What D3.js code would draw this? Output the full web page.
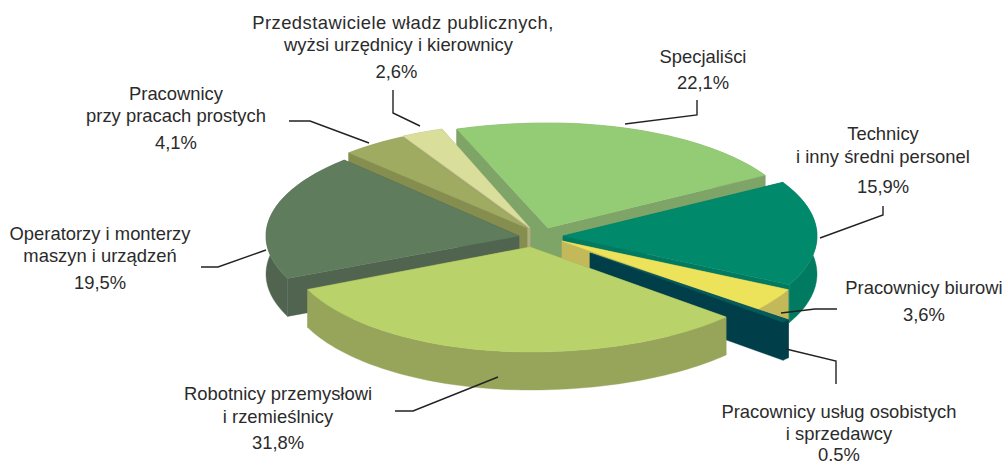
<!DOCTYPE html>
<html><head><meta charset="utf-8">
<script src="https://cdn.jsdelivr.net/npm/d3@7"></script>
<style>html,body{margin:0;padding:0;background:#fff;overflow:hidden}svg{display:block}text{font-family:"Liberation Sans",Arial,sans-serif;fill:#2b2b2b}</style>
</head><body><svg id="c" width="1004" height="465"></svg>
<script>
// Data, clockwise from the back of the pie
const categories = ["Specjaliści","Technicy i inny średni personel","Pracownicy biurowi","Pracownicy usług osobistych i sprzedawcy","Robotnicy przemysłowi i rzemieślnicy","Operatorzy i monterzy maszyn i urządzeń","Pracownicy przy pracach prostych","Przedstawiciele władz publicznych, wyżsi urzędnicy i kierownicy"];
const values = [22.1,15.9,3.6,0.5,31.8,19.5,4.1,2.6];
const valueLabels = ["22,1%","15,9%","3,6%","0.5%","31,8%","19,5%","4,1%","2,6%"];

// Styles
const topColors  = ["#94cb75","#00896a","#ede35a","#075a5c","#bad26a","#5f7c5d","#a0ab62","#d9de9a"];
const wallColors = ["#7ea567","#007a61","#c4b95a","#003f4a","#96a55a","#506450","#858e4f","#b0ae82"];

// Layout: apex of each exploded slice and its half axes (left / right / vertical)
const apexX = [548,563,562,590,530,519,527,530];
const apexY = [228,236,241,253,247,236,228,228];
const radL  = [272,258,258,258,243,253,258,262];
const radR  = [251,254,254,259,263,258,258,258];
const radV  = [105,107,107,104,105,105,104,105];
const depth = 38;
const drawOrder = [0,7,6,5,1,2,3,4];

// Label lines: text, baseline, optional centre, optional letter spacing
const labelLines = [
  {x:703,lines:[["Specjaliści",63],["22,1%",89]]},
  {x:883,lines:[["Technicy",140],["i inny średni personel",163],["15,9%",193]]},
  {x:924,lines:[["Pracownicy biurowi",294],["3,6%",321]]},
  {x:839,lines:[["Pracownicy usług osobistych",418],["i sprzedawcy",440],["0.5%",460.5]]},
  {x:278,lines:[["Robotnicy przemysłowi",400],["i rzemieślnicy",423],["31,8%",449]]},
  {x:100,lines:[["Operatorzy i monterzy",240],["maszyn i urządzeń",262],["19,5%",289]]},
  {x:176,lines:[["Pracownicy",100],["przy pracach prostych",122],["4,1%",149]]},
  {x:403,lines:[["Przedstawiciele władz publicznych,",29,403,0.45],["wyżsi urzędnicy i kierownicy",51,398.5],["2,6%",78,396.5]]}
];
const leaders = [
  [[625,124],[697,115],[697,100]],
  [[820,238],[883,215],[883,206]],
  [[781,313],[815,309],[837,309]],
  [[786,349],[836,361],[836,384]],
  [[498,377],[413,411],[395,411]],
  [[266,250],[218,267],[201,267]],
  [[369,143],[310,121],[289,121]],
  [[420,126],[393,113],[393,90]]
];

const start = -19.6*Math.PI/180;
const arcs = d3.pie().sort(null).startAngle(start).endAngle(start+2*Math.PI)(values);
const svg = d3.select("#c");
const line = d3.line();

function rimPoint(i,a){
  const s=Math.sin(a), c=Math.cos(a);
  return [apexX[i]+s*(s<0?radL[i]:radR[i]), apexY[i]-c*radV[i]];
}
function rimPoints(i){
  const d=arcs[i], n=Math.max(2,Math.ceil((d.endAngle-d.startAngle)*40));
  return d3.range(n+1).map(k=>rimPoint(i,d.startAngle+(d.endAngle-d.startAngle)*k/n));
}
const down = p=>[p[0],p[1]+depth];

drawOrder.forEach(i=>{
  const rim=rimPoints(i), A=[apexX[i],apexY[i]], g=svg.append("g");
  const wall=c=>g.append("path").attr("fill",c).attr("stroke",c).attr("stroke-width",.4);
  // radial walls
  wall(wallColors[i]).attr("d",line([A,rim[0],down(rim[0]),down(A)])+"Z");
  wall(wallColors[i]).attr("d",line([A,rim[rim.length-1],down(rim[rim.length-1]),down(A)])+"Z");
  // outer wall
  wall(wallColors[i]).attr("d",line(rim.concat(rim.slice().reverse().map(down)))+"Z");
  // top
  g.append("path").attr("fill",topColors[i]).attr("stroke",topColors[i]).attr("stroke-width",.4)
    .attr("d",line([A].concat(rim))+"Z");
});

svg.selectAll("path.leader").data(leaders).join("path").attr("class","leader")
  .attr("d",d=>line(d)).attr("fill","none").attr("stroke","#222").attr("stroke-width",1.4);

labelLines.forEach(l=>l.lines.forEach(t=>{
  svg.append("text").attr("x",t[2]===undefined?l.x:t[2]).attr("y",t[1]).attr("text-anchor","middle")
    .attr("font-size",18.4).attr("letter-spacing",t[3]||0).text(t[0]);
}));
</script></body></html>
